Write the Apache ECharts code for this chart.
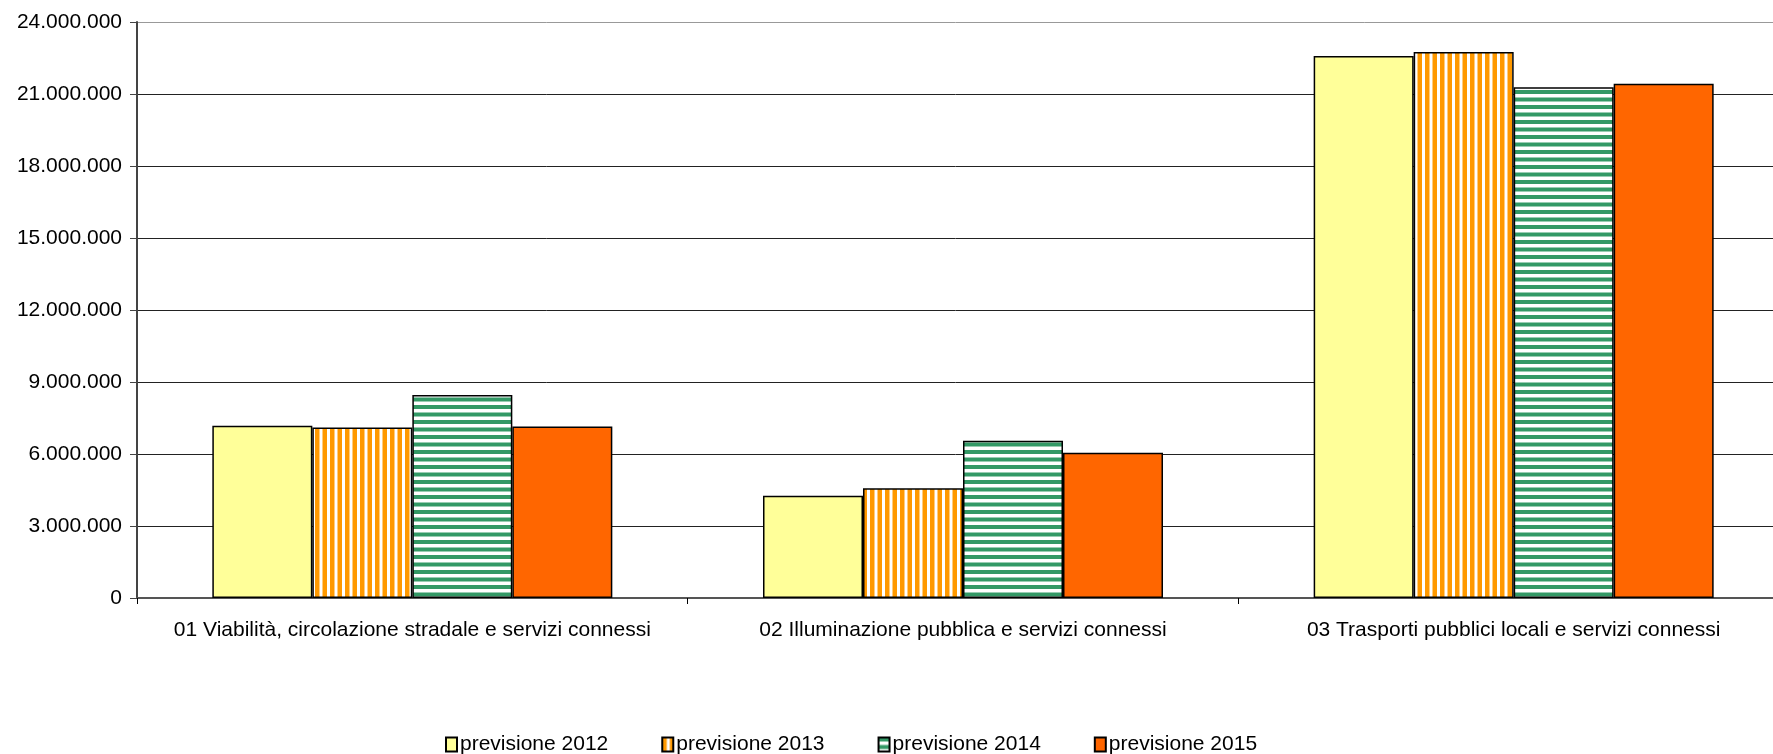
<!DOCTYPE html>
<html>
<head>
<meta charset="utf-8">
<script src="https://cdn.jsdelivr.net/npm/echarts@6/dist/echarts.min.js"></script>
<style>
  html, body { margin: 0; padding: 0; background: #fff; }
  #chart { width: 1773px; height: 754px; }
</style>
</head>
<body>
<div id="chart"></div>
<script>
const categories = [
  '01 Viabilità, circolazione stradale e servizi connessi',
  '02 Illuminazione pubblica e servizi connessi',
  '03 Trasporti pubblici locali e servizi connessi'
]
const seriesNames = ['previsione 2012', 'previsione 2013', 'previsione 2014', 'previsione 2015']
const prev2012 = [7180000, 4260000, 22580000]
const prev2013 = [7100000, 4570000, 22750000]
const prev2014 = [8460000, 6550000, 21280000]
const prev2015 = [7150000, 6050000, 21430000]

const stripes = (vertical, color) => {
  const c = document.createElement('canvas')
  c.width = 15
  c.height = 15
  const ctx = c.getContext('2d')
  ctx.fillStyle = '#fff'
  ctx.fillRect(0, 0, 15, 15)
  ctx.fillStyle = color
  if (vertical) {
    ctx.fillRect(0, 0, 4.5, 15)
    ctx.fillRect(7.5, 0, 4.5, 15)
  } else {
    ctx.fillRect(0, 0, 15, 4)
    ctx.fillRect(0, 7.5, 15, 4)
  }
  return { image: c, repeat: 'repeat' }
}

const fills = ['#FFFF99', stripes(true, '#FF9900'), stripes(false, '#339966'), '#FF6600']
const values = [prev2012, prev2013, prev2014, prev2015]

const fmt = v => String(v).replace(/\B(?=(\d{3})+(?!\d))/g, '.')
const font = "'Liberation Sans', Arial, sans-serif"

const chart = echarts.init(document.getElementById('chart'), null, { renderer: 'canvas' })
chart.setOption({
  animation: false,
  backgroundColor: '#fff',
  grid: { left: 137, top: 22, width: 1652, bottom: 156, containLabel: false, outerBoundsMode: 'none' },
  legend: {
    top: 729,
    left: 440,
    icon: 'rect',
    itemWidth: 11,
    itemHeight: 14,
    itemGap: 53,
    textStyle: {
      fontFamily: font,
      fontSize: 21,
      color: '#000',
      padding: [0, 0, 0, -2]
    },
    data: seriesNames
  },
  xAxis: {
    type: 'category',
    data: categories,
    axisLine: { lineStyle: { color: '#555', width: 2 } },
    axisTick: { show: true, length: 6, lineStyle: { color: '#000' } },
    axisLabel: {
      interval: 0,
      margin: 22,
      fontFamily: font,
      fontSize: 21,
      color: '#000'
    }
  },
  yAxis: {
    type: 'value',
    min: 0,
    max: 24000000,
    interval: 3000000,
    axisLine: { show: true, lineStyle: { color: '#444', width: 2 } },
    axisTick: { show: true, length: 7, lineStyle: { color: '#444' } },
    axisLabel: {
      margin: 15,
      fontFamily: font,
      fontSize: 21,
      color: '#000',
      formatter: fmt
    },
    splitLine: {
      lineStyle: {
        color: ['#222', '#222', '#222', '#222', '#222', '#222', '#222', '#222', '#999'],
        width: 1
      }
    }
  },
  series: seriesNames.map((name, i) => ({
    name,
    type: 'bar',
    data: values[i],
    barWidth: 100,
    barGap: '0%',
    itemStyle: { color: fills[i], borderColor: '#000', borderWidth: 1.5 }
  }))
})
</script>
</body>
</html>
